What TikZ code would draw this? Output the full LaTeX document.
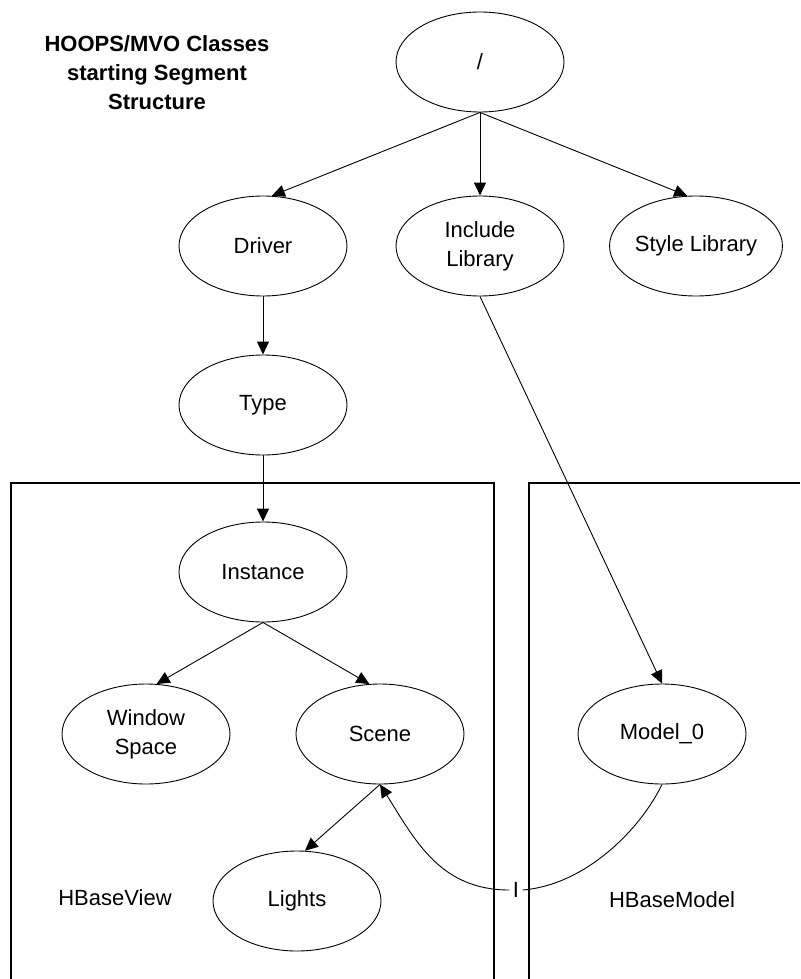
\documentclass[tikz,border=0pt]{standalone}
\usepackage{fontspec}
\setmainfont{Liberation Sans}
\usetikzlibrary{shapes.geometric,arrows.meta}
\begin{document}
\begin{tikzpicture}[x=1pt,y=-1pt,
  seg/.style={draw=black, line width=0.9pt, ellipse, minimum width=168pt, minimum height=100pt, inner sep=0pt, align=center, font=\fontsize{22}{29}\selectfont},
  arr/.style={line width=0.9pt, -{Triangle[length=13pt,width=12pt]}},
  plain/.style={line width=0.9pt},
  cluster/.style={line width=1.3pt},
  lbl/.style={font=\fontsize{22}{29}\selectfont, inner sep=0pt}
]
\useasboundingbox (0,0) rectangle (800,979);
% clusters
\coordinate (v1) at (11,979); \coordinate (v2) at (11,483); \coordinate (v3) at (494,483); \coordinate (v4) at (494,979);
\coordinate (m1) at (529,979); \coordinate (m2) at (529,483); \coordinate (m3) at (800,483);
\draw[cluster] (v1) -- (v2) -- (v3) -- (v4);
\draw[cluster] (m1) -- (m2) -- (m3);
% title
\node[align=center, font=\bfseries\fontsize{22}{29}\selectfont] (title) at (157,73) {HOOPS/MVO Classes\\starting Segment\\Structure};
% nodes
\node[seg] (root) at (480,62) {/};
\node[seg] (driver) at (263,246) {Driver};
\node[seg] (incl) at (480,246) {Include\\Library};
\node[seg] (style) at (696,246) {Style Library};
\node[seg] (type) at (263,405) {Type};
\node[seg] (inst) at (263,572) {Instance};
\node[seg] (win) at (146,734) {Window\\Space};
\node[seg] (scene) at (380,734) {Scene};
\node[seg] (model) at (662,734) {Model\_0};
\node[seg] (lights) at (297,901) {Lights};
\node[lbl] (hbv) at (115,898) {HBaseView};
\node[lbl] (hbm) at (672,900) {HBaseModel};
\node[lbl, minimum width=13pt] (iconn) at (516,890) {I};
% edges
\draw[arr] (root.south) -- (driver.80);
\draw[arr] (root.south) -- (incl.north);
\draw[arr] (root.south) -- (style.100);
\draw[arr] (driver.south) -- (type.north);
\draw[arr] (type.south) -- (inst.north);
\draw[arr] (inst.south) -- (win.78);
\draw[arr] (inst.south) -- (scene.102);
\draw[arr] (scene.south) -- (lights.81);
\draw[arr] (incl.south) -- (model.north);
\draw[plain] (model.south) .. controls (640,830) and (585,885) .. (iconn.east);
\draw[arr] (iconn.west) .. controls (440,890) and (415,840) .. (scene.south);
\end{tikzpicture}
\end{document}
